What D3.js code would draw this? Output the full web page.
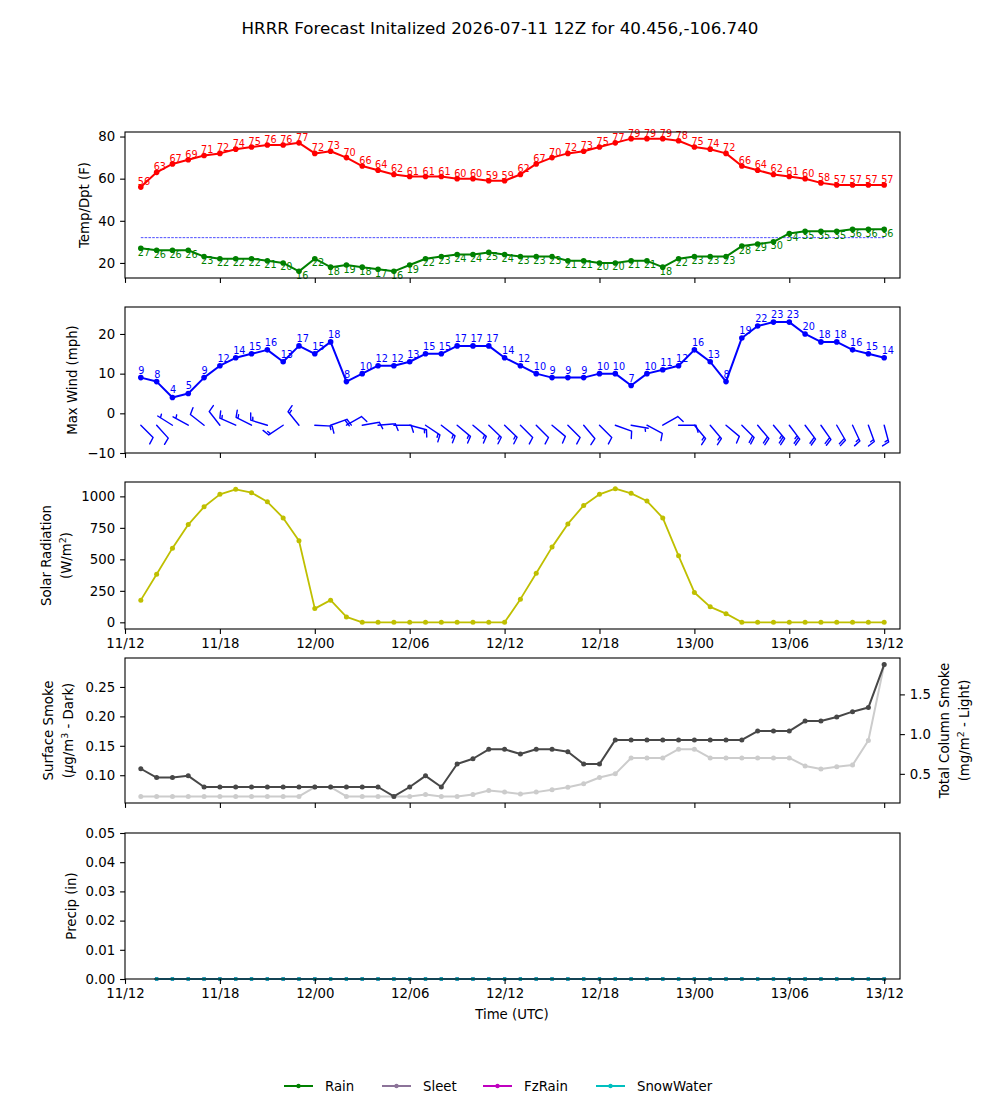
<!DOCTYPE html>
<html><head><meta charset="utf-8">
<script src="https://cdn.jsdelivr.net/npm/d3@7"></script>
<style>
body{margin:0;background:#fff}
svg{display:block}
text{font-family:"DejaVu Sans",sans-serif;fill:#000}
</style>
</head><body><svg id="c" width="1000" height="1100"></svg>
<script>
// ---------------- DATA ----------------
const initTime = "2026-07-11T12:00:00Z";
const forecastHours = [1,2,3,4,5,6,7,8,9,10,11,12,13,14,15,16,17,18,19,20,21,22,23,24,
  25,26,27,28,29,30,31,32,33,34,35,36,37,38,39,40,41,42,43,44,45,46,47,48];
const tempF = [56,63,67,69,71,72,74,75,76,76,77,72,73,70,66,64,62,61,61,61,60,60,59,59,
  62,67,70,72,73,75,77,79,79,79,78,75,74,72,66,64,62,61,60,58,57,57,57,57];
const dewpF = [27,26,26,26,23,22,22,22,21,20,16,22,18,19,18,17,16,19,22,23,24,24,25,24,
  23,23,23,21,21,20,20,21,21,18,22,23,23,23,28,29,30,34,35,35,35,36,36,36];
const freezingF = 32;
const windMph = [9,8,4,5,9,12,14,15,16,13,17,15,18,8,10,12,12,13,15,15,17,17,17,14,
  12,10,9,9,9,10,10,7,10,11,12,16,13,8,19,22,23,23,20,18,18,16,15,14];
const windDirDeg = [135,138,302,299,308,322,294,297,287,236,321,93,70,60,80,85,90,105,124,128,130,130,134,134,
  135,135,130,135,140,135,110,100,118,60,90,140,140,130,135,140,140,143,143,145,150,155,160,165];
const barbLevel = -3;
const solarWm2 = [176,381,589,776,917,1016,1056,1029,957,829,648,109,176,43,0,0,0,0,0,0,0,0,0,0,
  184,389,597,781,928,1016,1061,1024,963,829,528,237,123,69,0,0,0,0,0,0,0,0,0,0];
const smokeSurface = [0.111,0.096,0.096,0.099,0.080,0.080,0.080,0.080,0.080,0.080,0.080,0.080,0.080,0.080,0.080,0.080,
  0.064,0.080,0.099,0.080,0.119,0.128,0.144,0.144,0.136,0.144,0.144,0.140,0.119,0.119,
  0.160,0.160,0.160,0.160,0.160,0.160,0.160,0.160,0.160,0.175,0.175,0.175,0.192,0.192,0.199,0.208,0.215,0.288];
const smokeColumn = [0.216,0.216,0.216,0.216,0.216,0.216,0.216,0.216,0.216,0.216,0.216,0.334,0.334,
  0.216,0.216,0.216,0.216,0.216,0.24,0.216,0.216,0.24,0.29,0.27,0.246,0.27,0.30,0.33,0.375,0.454,0.50,
  0.70,0.70,0.70,0.81,0.81,0.70,0.70,0.70,0.70,0.70,0.70,0.60,0.56,0.59,0.61,0.92,1.875];
const precipHours = [2,3,4,5,6,7,8,9,10,11,12,13,14,15,16,17,18,19,20,21,22,23,24,
  25,26,27,28,29,30,31,32,33,34,35,36,37,38,39,40,41,42,43,44,45,46,47,48];
const rainIn      = [0,0,0,0,0,0,0,0,0,0,0,0,0,0,0,0,0,0,0,0,0,0,0,0,0,0,0,0,0,0,0,0,0,0,0,0,0,0,0,0,0,0,0,0,0,0,0];
const sleetIn     = [0,0,0,0,0,0,0,0,0,0,0,0,0,0,0,0,0,0,0,0,0,0,0,0,0,0,0,0,0,0,0,0,0,0,0,0,0,0,0,0,0,0,0,0,0,0,0];
const fzRainIn    = [0,0,0,0,0,0,0,0,0,0,0,0,0,0,0,0,0,0,0,0,0,0,0,0,0,0,0,0,0,0,0,0,0,0,0,0,0,0,0,0,0,0,0,0,0,0,0];
const snowWaterIn = [0,0,0,0,0,0,0,0,0,0,0,0,0,0,0,0,0,0,0,0,0,0,0,0,0,0,0,0,0,0,0,0,0,0,0,0,0,0,0,0,0,0,0,0,0,0,0];
const precipNames = ["Rain","Sleet","FzRain","SnowWater"];
const precipColors = ["#008000","#8c7399","#bf00bf","#00bfbf"];
const titleText = "HRRR Forecast Initalized 2026-07-11 12Z for 40.456,-106.740";

// ---------------- LAYOUT ----------------
const svg = d3.select("#c");
const L = 125, R = 900;
const panels = [{t:132,b:278},{t:307,b:453},{t:482,b:629},{t:658,b:803},{t:833,b:979}];
const t0 = new Date(initTime);
const hr = h => new Date(t0.getTime() + h*3600e3);
const times = forecastHours.map(hr);
const x = d3.scaleUtc().domain([hr(0), hr(49)]).range([L, R]);
const tickFont = 13.3;
const fmtX = d3.utcFormat("%d/%H");
const xTicks = x.ticks(d3.utcHour.every(6));

svg.append("text").attr("x",500).attr("y",34).attr("text-anchor","middle")
  .style("font-size","16.7px").text(titleText);

function frame(p){
  svg.append("rect").attr("x",L).attr("y",p.t).attr("width",R-L).attr("height",p.b-p.t)
    .attr("fill","none").attr("stroke","#000").attr("stroke-width",1.1);
}
function xAxis(p, labels){
  const g = svg.append("g").attr("transform",`translate(0,${p.b})`);
  const ax = d3.axisBottom(x).tickValues(xTicks).tickSize(4.9).tickPadding(4.9)
    .tickFormat(labels ? fmtX : () => "");
  g.call(ax);
  g.select(".domain").remove();
  g.selectAll("line").attr("stroke","#000").attr("stroke-width",1.1);
  g.selectAll("text").style("font-size",tickFont+"px").style("font-family","DejaVu Sans").attr("fill","#000");
}
function yAxis(p, y, ticks, fmt, right){
  const g = svg.append("g").attr("transform",`translate(${right?R:L},0)`);
  const ax = (right? d3.axisRight(y): d3.axisLeft(y)).tickValues(ticks).tickSize(4.9).tickPadding(4.9).tickFormat(fmt);
  g.call(ax);
  g.select(".domain").remove();
  g.selectAll("line").attr("stroke","#000").attr("stroke-width",1.1);
  g.selectAll("text").style("font-size",tickFont+"px").style("font-family","DejaVu Sans").attr("fill","#000");
}
function yLabel(lines, cx, p){
  const cy = (p.t+p.b)/2;
  const t = svg.append("text").attr("transform",`translate(${cx},${cy}) rotate(-90)`)
    .attr("text-anchor","middle").style("font-size",tickFont+"px");
  lines.forEach((ln,i)=>{
    const ts = t.append("tspan").attr("x",0).attr("dy", i===0 ? (lines.length>1? "-0.25em":"0.35em") : "1.55em");
    ln.forEach(seg=>{
      const s = ts.append("tspan").text(seg.t);
      if(seg.sup){ s.attr("baseline-shift","super").style("font-size","9.5px"); }
      if(seg.it){ s.style("font-style","italic"); }
    });
  });
}
function series(vals, xs, y, color, r, lw, g){
  const pts = vals.map((v,i)=>[x(xs[i]), y(v)]);
  g.append("path").attr("d", d3.line()(pts)).attr("fill","none").attr("stroke",color)
    .attr("stroke-width",lw).attr("stroke-linejoin","round");
  g.selectAll(null).data(pts).enter().append("circle").attr("cx",d=>d[0]).attr("cy",d=>d[1])
    .attr("r",r).attr("fill",color);
  return pts;
}

// ---------------- PANEL 1: Temp / Dewpoint ----------------
{
  const p = panels[0];
  const y = d3.scaleLinear().domain([12.85, 82.15]).range([p.b, p.t]);
  const g = svg.append("g");
  g.append("line").attr("x1",x(times[0])).attr("x2",x(times[times.length-1]))
    .attr("y1",y(freezingF)).attr("y2",y(freezingF)).attr("stroke","#0000ff")
    .attr("stroke-width",0.7).attr("stroke-dasharray","2.6,1.2");
  const dp = series(dewpF, times, y, "#008000", 2.8, 2, g);
  const tp = series(tempF, times, y, "#ff0000", 2.8, 2, g);
  g.selectAll(null).data(tempF).enter().append("text")
    .attr("x",(d,i)=>tp[i][0]-3).attr("y",(d,i)=>tp[i][1]-2)
    .style("font-size","9.7px").attr("fill","#ff0000").style("fill","#ff0000").text(d=>d);
  g.selectAll(null).data(dewpF).enter().append("text")
    .attr("x",(d,i)=>dp[i][0]-3).attr("y",(d,i)=>dp[i][1]+7.5)
    .style("font-size","9.7px").style("fill","#008000").text(d=>d);
  frame(p); xAxis(p,false);
  yAxis(p, y, [20,40,60,80], d3.format("d"));
  yLabel([[{t:"Temp/Dpt (F)"}]], 84, p);
}

// ---------------- PANEL 2: Wind ----------------
{
  const p = panels[1];
  const y = d3.scaleLinear().domain([-10, 26.8]).range([p.b, p.t]);
  const g = svg.append("g");
  const wp = series(windMph, times, y, "#0000ff", 2.8, 2, g);
  g.selectAll(null).data(windMph).enter().append("text")
    .attr("x",(d,i)=>wp[i][0]-2.5).attr("y",(d,i)=>wp[i][1]-4)
    .style("font-size","9.7px").style("fill","#0000ff").text(d=>d);
  // wind barbs (matplotlib-style, length 5)
  const sc = 5/2*100/72, Ls = 5*sc, fh = 0.4*5*sc, fw = 0.25*5*sc, sp = 0.125*5*sc;
  const barbs = g.append("g");
  windMph.forEach((spd,i)=>{
    const d = windDirDeg[i]*Math.PI/180;
    const sx = Math.sin(d), sy = -Math.cos(d);
    const bx = Math.cos(d), by = Math.sin(d);
    const bx0 = x(times[i]), by0 = y(barbLevel);
    const P = (lx,ly)=>[bx0 + ly*sx + lx*bx, by0 + ly*sy + lx*by];
    const mag = Math.round(spd/5)*5;
    const nb = Math.floor((mag%50)/10), half = (mag%10)>=5;
    let path = `M${P(0,0)}L${P(0,Ls)}`;
    let off = Ls;
    for(let k=0;k<nb;k++){ path += `M${P(0,off)}L${P(fh,off+fw/2)}`; off -= sp; }
    if(half){ if(off===Ls) off -= 1.5*sp; path += `M${P(0,off)}L${P(fh/2,off+fw/4)}`; }
    barbs.append("path").attr("d",path).attr("fill","none").attr("stroke","#0000ff")
      .attr("stroke-width",1.4).attr("stroke-linecap","round");
  });
  frame(p); xAxis(p,false);
  yAxis(p, y, [-10,0,10,20], d3.format("d"));
  yLabel([[{t:"Max Wind (mph)"}]], 72, p);
}

// ---------------- PANEL 3: Solar ----------------
{
  const p = panels[2];
  const y = d3.scaleLinear().domain([-53, 1114]).range([p.b, p.t]);
  const g = svg.append("g");
  series(solarWm2, times, y, "#bfbf00", 2.5, 1.8, g);
  frame(p); xAxis(p,true);
  yAxis(p, y, [0,250,500,750,1000], d3.format("d"));
  yLabel([[{t:"Solar Radiation"}],[{t:"(W/m"},{t:"2",sup:true},{t:")"}]], 54, p);
}

// ---------------- PANEL 4: Smoke ----------------
{
  const p = panels[3];
  const yl = d3.scaleLinear().domain([0.0528, 0.2992]).range([p.b, p.t]);
  const yr = d3.scaleLinear().domain([0.133, 1.958]).range([p.b, p.t]);
  const g = svg.append("g");
  series(smokeColumn, times, yr, "#cccccc", 2.5, 2, g);
  series(smokeSurface, times, yl, "#474747", 2.5, 2, g);
  frame(p); xAxis(p,false);
  yAxis(p, yl, [0.10,0.15,0.20,0.25], d3.format(".2f"));
  yAxis(p, yr, [0.5,1.0,1.5], d3.format(".1f"), true);
  yLabel([[{t:"Surface Smoke"}],[{t:"("},{t:"μ",it:true},{t:"g/m"},{t:"3",sup:true},{t:" - Dark)"}]], 56, p);
  yLabel([[{t:"Total Column Smoke"}],[{t:"(mg/m"},{t:"2",sup:true},{t:" - Light)"}]], 952, p);
}

// ---------------- PANEL 5: Precip ----------------
{
  const p = panels[4];
  const y = d3.scaleLinear().domain([0, 0.05]).range([p.b, p.t]);
  const g = svg.append("g");
  const pt = precipHours.map(hr);
  [rainIn, sleetIn, fzRainIn, snowWaterIn].forEach((vals,k)=>{
    series(vals, pt, y, precipColors[k], 2, 1.6, g);
  });
  frame(p); xAxis(p,true);
  yAxis(p, y, [0,0.01,0.02,0.03,0.04,0.05], d3.format(".2f"));
  yLabel([[{t:"Precip (in)"}]], 71, p);
  svg.append("text").attr("x",512).attr("y",1019).attr("text-anchor","middle")
    .style("font-size",tickFont+"px").text("Time (UTC)");
}

// ---------------- LEGEND ----------------
{
  const lx = [284, 382, 483, 596];
  const lg = svg.append("g");
  precipNames.forEach((n,k)=>{
    lg.append("line").attr("x1",lx[k]).attr("x2",lx[k]+29).attr("y1",1086).attr("y2",1086)
      .attr("stroke",precipColors[k]).attr("stroke-width",2);
    lg.append("circle").attr("cx",lx[k]+14.5).attr("cy",1086).attr("r",2.2).attr("fill",precipColors[k]);
    lg.append("text").attr("x",lx[k]+41).attr("y",1091).style("font-size",tickFont+"px").text(n);
  });
}
</script></body></html>
